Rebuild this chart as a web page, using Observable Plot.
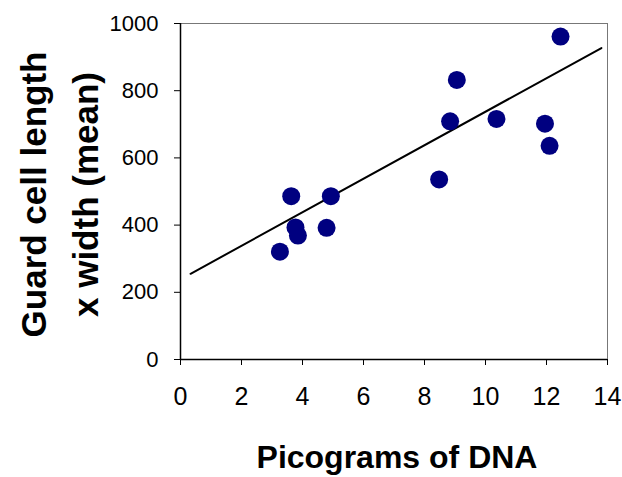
<!DOCTYPE html>
<html>
<head>
<meta charset="utf-8">
<script src="https://cdn.jsdelivr.net/npm/d3@7"></script>
<script src="https://cdn.jsdelivr.net/npm/@observablehq/plot@0.6"></script>
<style>
  html, body { margin: 0; padding: 0; background: #fff; }
  #chart svg { display: block; }
</style>
</head>
<body>
<div id="chart"></div>
<script>
// Data
const dnaPg   = [3.26, 3.63, 3.77, 3.85, 4.79, 4.93, 8.48, 8.84, 9.06, 10.36, 11.95, 12.10, 12.46];
const cellSize = [321, 486, 393, 369, 392, 486, 536, 709, 832, 716, 702, 636, 961];
const trendX = [0.33, 13.8];
const trendY = [255, 927];
const xTicks = [0, 2, 4, 6, 8, 10, 12, 14];
const yTicks = [0, 200, 400, 600, 800, 1000];
const xLabel = "Picograms of DNA";
const yLabel = "Guard cell length\nx width (mean)";

const points = dnaPg.map((x, i) => ({x, y: cellSize[i]}));
const trend = trendX.map((x, i) => ({x, y: trendY[i]}));

const chart = Plot.plot({
  width: 622,
  height: 477,
  marginLeft: 180,
  marginRight: 15,
  marginTop: 23,
  marginBottom: 118,
  style: {fontFamily: "Liberation Sans, Arial, sans-serif", fontSize: "22px", color: "#000", background: "#fff"},
  x: {domain: [0, 14]},
  y: {domain: [0, 1000]},
  marks: [
    Plot.frame({stroke: "#777", strokeWidth: 1}),
    Plot.ruleX([0], {stroke: "#000", strokeWidth: 1.5}),
    Plot.ruleY([0], {stroke: "#000", strokeWidth: 1.5}),
    Plot.axisX({ticks: xTicks, tickSize: 6, tickPadding: 22, tickFormat: d => String(d), label: null, fontSize: 25}),
    Plot.axisY({ticks: yTicks, tickSize: 6, tickPadding: 16, tickFormat: d => String(d), label: null, fontSize: 22}),
    Plot.line(trend, {x: "x", y: "y", stroke: "#000", strokeWidth: 2}),
    Plot.dot(points, {x: "x", y: "y", r: 9, fill: "#000080", stroke: "none"}),
    Plot.text([xLabel], {frameAnchor: "bottom", textAnchor: "middle", dx: 3, dy: 108, lineAnchor: "bottom", fontSize: 32, fontWeight: "bold", fill: "#000"}),
    Plot.text([yLabel], {frameAnchor: "left", textAnchor: "middle", dx: -125.5, dy: 3, rotate: -90, lineHeight: 1.486, fontSize: 35, fontWeight: "bold", fill: "#000"})
  ]
});
document.getElementById("chart").appendChild(chart);
</script>
</body>
</html>
